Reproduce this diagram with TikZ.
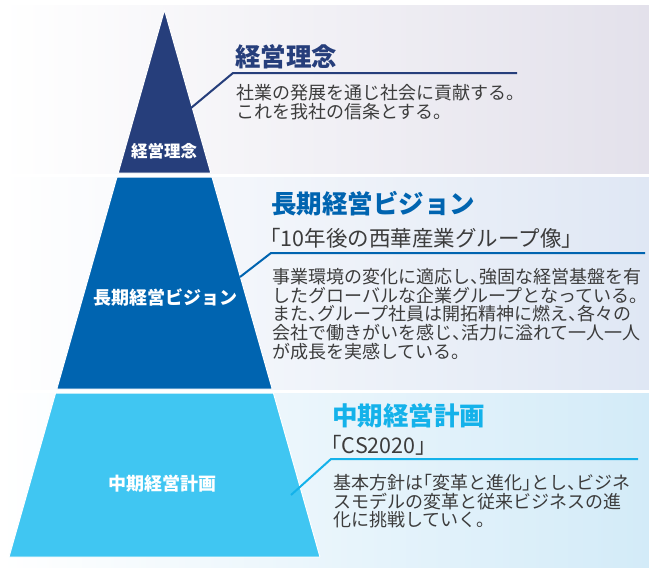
\documentclass[tikz,border=0pt]{standalone}
\usepackage{fontspec}
\newfontfamily\jp{Noto Sans CJK JP}
\newfontfamily\jph[RawFeature=+halt]{Noto Sans CJK JP}
\definecolor{rinenblue}{HTML}{263E7B}
\definecolor{visionblue}{HTML}{0064B0}
\definecolor{keikakublue}{HTML}{40C6F2}
\definecolor{keikakutitle}{HTML}{14B2EA}
\definecolor{bgone}{HTML}{E3E1EB}
\definecolor{bgtwo}{HTML}{DFE7F4}
\definecolor{bgthree}{HTML}{D3EBF8}
\definecolor{bodygray}{HTML}{3C3C3C}

\begin{document}
\begin{tikzpicture}[line cap=round,line join=round,x=1pt,y=-1pt,
  headline/.style={anchor=west,inner sep=0pt,font=\jp\bfseries\fontsize{25.5}{25.5}\selectfont},
  subline/.style={anchor=west,inner sep=0pt,text=bodygray,font=\jph\fontsize{21.5}{21.5}\selectfont},
  bodytext/.style={anchor=north west,align=left,inner sep=0pt,text=bodygray,font=\jph\fontsize{18}{18.7}\selectfont},
  tag/.style={text=white,inner sep=0pt,font=\jp\bfseries\fontsize{18}{18}\selectfont},
  leader/.style={line width=2pt,line cap=butt}]
\useasboundingbox (0,0) rectangle (649,568);

% bands behind the pyramid
\shade[left color=white,right color=bgone] (0,5) rectangle (649,173);
\shade[left color=white,right color=bgtwo] (0,177) rectangle (649,389);
\shade[left color=white,right color=bgthree] (0,393) rectangle (649,568);

% pyramid
\draw[white,line width=1pt,fill=rinenblue] (164.5,10) -- (210.8,173) -- (118.2,173) -- cycle;
\draw[white,line width=1pt,fill=visionblue] (117.0,177) -- (212.0,177) -- (272.2,389) -- (56.8,389) -- cycle;
\draw[white,line width=1pt,fill=keikakublue] (55.6,393) -- (273.4,393) -- (320,557) -- (9,557) -- cycle;

\node[tag,font=\jp\bfseries\fontsize{16.5}{16.5}\selectfont] (tagrinen) at (164,151) {経営理念};
\node[tag] (tagvision) at (165,298) {長期経営ビジョン};
\node[tag] (tagkeikaku) at (162.5,484) {中期経営計画};

% texts
\node[headline,text=rinenblue] (rinen) at (235,56.5) {経営理念};
\node[bodytext] (rinentxt) at (236,84) {社業の発展を通じ社会に貢献する。\\これを我社の信条とする。};

\node[headline,text=visionblue] (vision) at (271,204) {長期経営ビジョン};
\node[subline] (visionsub) at (270,238) {「10年後の西華産業グループ像」};
\node[bodytext] (visiontxt) at (272,268) {事業環境の変化に適応し、強固な経営基盤を有\\したグローバルな企業グループとなっている。\\また、グループ社員は開拓精神に燃え、各々の\\会社で働きがいを感じ、活力に溢れて一人一人\\が成長を実感している。};

\node[headline,text=keikakutitle] (keikaku) at (332,416) {中期経営計画};
\node[subline] (keikakusub) at (331,445) {「CS2020」};
\node[bodytext] (keikakutxt) at (333,474) {基本方針は「変革と進化」とし、ビジネ\\スモデルの変革と従来ビジネスの進\\化に挑戦していく。};

% leader lines
\coordinate (pinrinen) at (191,108);
\coordinate (kinkrinen) at (233,73);
\coordinate (endrinen) at (517,73);
\coordinate (pinvision) at (240,277);
\coordinate (kinkvision) at (271,253);
\coordinate (endvision) at (645,253);
\coordinate (pinkeikaku) at (291,495);
\coordinate (kinkkeikaku) at (331,459);
\coordinate (endkeikaku) at (638,459);
\draw[leader,rinenblue] (pinrinen) -- (kinkrinen) -- (endrinen);
\draw[leader,visionblue] (pinvision) -- (kinkvision) -- (endvision);
\draw[leader,keikakutitle] (pinkeikaku) -- (kinkkeikaku) -- (endkeikaku);
\end{tikzpicture}
\end{document}
